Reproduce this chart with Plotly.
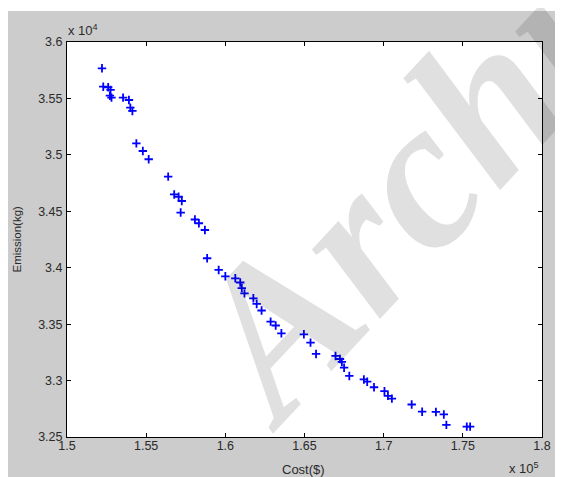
import plotly.graph_objects as go

# Pareto front: Cost ($, in units of 1e5) vs Emission (kg, in units of 1e4)
cost_1e5 = [1.5221, 1.5229, 1.5260, 1.5275, 1.5271, 1.5281, 1.5354, 1.5391, 1.5400, 1.5413,
            1.5438, 1.5479, 1.5516, 1.5639, 1.5677, 1.5705, 1.5725, 1.5718, 1.5808, 1.5833,
            1.5871, 1.5885, 1.5958, 1.6000, 1.6063, 1.6094, 1.6104, 1.6121, 1.6177, 1.6198,
            1.6229, 1.6286, 1.6318, 1.6354, 1.6496, 1.6538, 1.6573, 1.6696, 1.6724, 1.6736,
            1.6750, 1.6783, 1.6875, 1.6896, 1.6939, 1.7005, 1.7027, 1.7052, 1.7177, 1.7243,
            1.7330, 1.7380, 1.7396, 1.7525, 1.7546]
emission_1e4 = [3.5767, 3.5604, 3.5599, 3.5575, 3.5524, 3.5507, 3.5507, 3.5486, 3.5418, 3.5389,
                3.5102, 3.5034, 3.4961, 3.4807, 3.4649, 3.4629, 3.4591, 3.4489, 3.4427, 3.4394,
                3.4334, 3.4084, 3.3980, 3.3924, 3.3906, 3.3869, 3.3820, 3.3773, 3.3729, 3.3679,
                3.3621, 3.3522, 3.3488, 3.3419, 3.3410, 3.3336, 3.3236, 3.3218, 3.3191, 3.3165,
                3.3114, 3.3041, 3.3010, 3.2990, 3.2941, 3.2906, 3.2864, 3.2840, 3.2788, 3.2724,
                3.2722, 3.2700, 3.2607, 3.2592, 3.2592]

x_ticks = [1.5, 1.55, 1.6, 1.65, 1.7, 1.75, 1.8]
x_tick_labels = ["1.5", "1.55", "1.6", "1.65", "1.7", "1.75", "1.8"]
y_ticks = [3.25, 3.3, 3.35, 3.4, 3.45, 3.5, 3.55, 3.6]
y_tick_labels = ["3.25", "3.3", "3.35", "3.4", "3.45", "3.5", "3.55", "3.6"]

# The page body has an 8px margin, so the figure is laid out 8px up/left of the reference frame.
OFF = 8
W, H = 563 - OFF, 477 - OFF
ML, MT = 67 - OFF, 42 - OFF
PW, PH = 480, 395
MR = W - ML - PW
MB = H - MT - PH


def px(xr):
    return (xr - OFF - ML) / PW


def py(yr):
    return (MT + PH - (yr - OFF)) / PH


font = "Liberation Sans, Arial, sans-serif"
tick_col = "#2a2a2a"

fig = go.Figure()
fig.add_trace(go.Scatter(
    x=cost_1e5, y=emission_1e4, mode="markers",
    marker=dict(symbol="cross-thin-open", size=6, color="#0000ff",
                line=dict(color="#0000ff", width=1.8)),
    showlegend=False, hoverinfo="x+y",
))

axis_common = dict(
    showgrid=False, zeroline=False, showline=True, linecolor="#000000", linewidth=1,
    mirror="ticks", ticks="inside", ticklen=4, tickwidth=1, tickcolor="#000000",
    tickfont=dict(family=font, size=12.5, color=tick_col),
)
fig.update_xaxes(range=[1.5, 1.8], tickvals=x_ticks, ticktext=x_tick_labels,
                 ticklabelstandoff=-3, **axis_common)
fig.update_yaxes(range=[3.25, 3.6], tickvals=y_ticks, ticktext=y_tick_labels,
                 ticklabelstandoff=1, **axis_common)

shapes = [
    dict(type="rect", xref="paper", yref="paper", x0=px(0), x1=px(600), y0=py(11), y1=py(0),
         fillcolor="#ffffff", line=dict(width=0), layer="below"),
]

annotations = [
    dict(text="Cost($)", x=px(306), y=py(469), xref="paper", yref="paper", showarrow=False,
         xanchor="center", yanchor="middle", font=dict(family=font, size=13, color=tick_col)),
    dict(text="Emission(kg)", x=px(16), y=py(239), xref="paper", yref="paper", showarrow=False,
         textangle=-90, xanchor="center", yanchor="middle",
         font=dict(family=font, size=11.5, color=tick_col)),
    dict(text="x 10<sup>4</sup>", x=px(66), y=py(30), xref="paper", yref="paper", showarrow=False,
         xanchor="left", yanchor="middle", font=dict(family=font, size=13, color=tick_col)),
    dict(text="x 10<sup>5</sup>", x=px(512), y=py(468), xref="paper", yref="paper", showarrow=False,
         xanchor="left", yanchor="middle", font=dict(family=font, size=13, color=tick_col)),
    dict(text="<b><i>Archi</i></b>", x=px(396), y=py(200), xref="paper", yref="paper",
         showarrow=False, textangle=-47, xanchor="center", yanchor="middle",
         font=dict(family="Liberation Serif, serif", size=212, color="rgba(0,0,0,0.12)")),
]

fig.update_layout(
    width=W, height=H, margin=dict(l=ML, r=MR, t=MT, b=MB, pad=0),
    paper_bgcolor="#cccccc", plot_bgcolor="#ffffff",
    shapes=shapes, annotations=annotations,
)

fig.write_html("out.html")
